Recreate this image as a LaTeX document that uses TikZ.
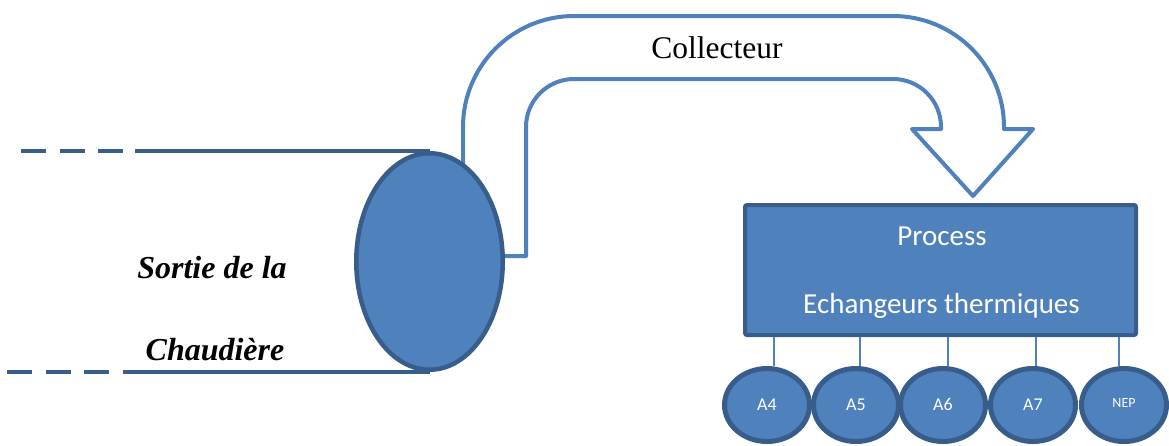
\documentclass[tikz,border=0pt]{standalone}
\usepackage{fontspec}
\setmainfont{Liberation Serif}
\newfontfamily\calibri{Carlito}
\usetikzlibrary{shapes.geometric,backgrounds}
\definecolor{fillblue}{HTML}{4F81BD}
\definecolor{edgeblue}{HTML}{385D8A}
\tikzset{
  pipe/.style={draw=edgeblue, line width=4.5pt},
  pipedash/.style={pipe, dash pattern=on 25pt off 13.5pt},
  drum/.style={ellipse, draw=edgeblue, fill=fillblue, line width=4.5pt, inner sep=0pt,
    minimum width=146.5pt, minimum height=216.5pt},
  outline/.style={draw=fillblue, line width=4pt, line join=round},
  procbox/.style={rectangle, draw=edgeblue, fill=fillblue, line width=4pt,
    rounded corners=2pt, minimum width=391pt, minimum height=130pt, inner sep=0pt},
  unit/.style={ellipse, draw=edgeblue, fill=fillblue, line width=5pt, inner sep=0pt,
    minimum width=85pt, minimum height=73pt, text=white, text height=11.5pt, text depth=0pt,
    font=\calibri\fontsize{18}{21}\selectfont},
  link/.style={draw=fillblue, line width=1.5pt},
  boxtext/.style={text=white, font=\calibri\fontsize{29}{34}\selectfont, anchor=base},
  serlabel/.style={font=\bfseries\itshape\fontsize{32}{38}\selectfont, anchor=base},
}
\begin{document}
\begin{tikzpicture}[x=1pt, y=-1pt]
\useasboundingbox (0,0) rectangle (1169,445);

% collector: bent outlined arrow from the drum to the process
\draw[outline] (463,210) -- (463,127)
  arc[start angle=180, end angle=270, radius=111] -- (893,16)
  arc[start angle=270, end angle=360, radius=111] -- (1004,129)
  -- (1033,129) -- (973,196) -- (912,129) -- (941,129) -- (941,127)
  arc[start angle=0, end angle=-90, radius=48] -- (574,79)
  arc[start angle=-90, end angle=-180, radius=48] -- (526,256) -- (490,256);
\node[font=\fontsize{31.5}{37}\selectfont, anchor=base] (coll) at (717,58) {Collecteur};

% boiler outlet: end face of the pipe, with its walls behind it
\node[drum] (boiler) at (429.5,261.5) {};
\coordinate (topstart) at (21,151);
\coordinate (topsolid) at (135,151);
\coordinate (botstart) at (7,372);
\coordinate (botsolid) at (126,372);
\begin{pgfonlayer}{background}
\draw[pipedash] (topstart) -- (topsolid);
\draw[pipe] (topsolid) -- (topsolid -| boiler.north);
\draw[pipedash] (botstart) -- (botsolid);
\draw[pipe] (botsolid) -- (botsolid -| boiler.south);
\end{pgfonlayer}

\node[serlabel] (lab1) at (212,278) {Sortie de la};
\node[serlabel] (lab2) at (215,360) {Chaudière};

% process block
\node[procbox] (box) at (940.5,270) {};
\node[boxtext] (ptitle) at (942,245) {Process};
\node[boxtext] (psub) at (941.5,313) {Echangeurs thermiques};

% heat exchanger units
\node[unit] (a4) at (767,405) {A4};
\node[unit] (a5) at (856,405) {A5};
\node[unit] (a6) at (943,405) {A6};
\node[unit] (a7) at (1033,405) {A7};
\node[unit, font=\calibri\fontsize{14}{16}\selectfont, text height=5pt] (nep) at (1124,405) {NEP};

\draw[link] ([xshift=7pt]a4.north) -- ([xshift=7pt]a4.north |- box.south);
\draw[link] ([xshift=4pt]a5.north) -- ([xshift=4pt]a5.north |- box.south);
\draw[link] ([xshift=5pt]a6.north) -- ([xshift=5pt]a6.north |- box.south);
\draw[link] ([xshift=3pt]a7.north) -- ([xshift=3pt]a7.north |- box.south);
\draw[link] ([xshift=-5pt]nep.north) -- ([xshift=-5pt]nep.north |- box.south);
\end{tikzpicture}
\end{document}
